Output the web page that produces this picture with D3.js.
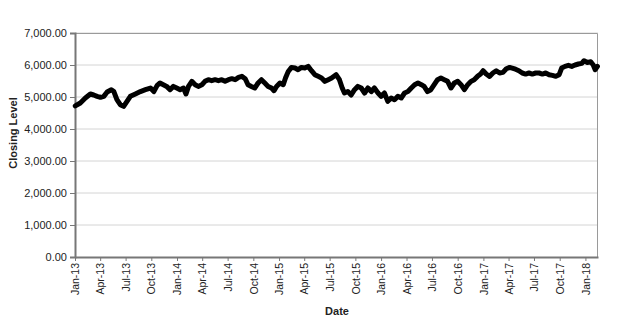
<!DOCTYPE html>
<html>
<head>
<meta charset="utf-8">
<script src="https://cdn.jsdelivr.net/npm/d3@7"></script>
<style>
  body { margin: 0; background: #fff; }
  svg text { font-family: "Liberation Sans", Arial, sans-serif; fill: #222; }
</style>
</head>
<body>
<div id="chart"></div>
<script>
// closing level readings
var dates = [
  "2013-01-02","2013-01-20","2013-02-07","2013-02-25","2013-03-09","2013-03-21","2013-04-02","2013-04-14",
  "2013-04-26","2013-05-11","2013-05-20","2013-05-31","2013-06-12","2013-06-24","2013-07-06","2013-07-18",
  "2013-08-05","2013-08-23","2013-09-10","2013-09-28","2013-10-10","2013-10-22",
  "2013-11-01","2013-11-13","2013-11-25","2013-12-07","2013-12-19","2013-12-31","2014-01-12","2014-01-24",
  "2014-02-02","2014-02-11","2014-02-23","2014-03-07","2014-03-18","2014-03-31","2014-04-11","2014-04-23",
  "2014-05-05","2014-05-17","2014-05-29","2014-06-10","2014-06-22","2014-07-04","2014-07-16","2014-07-28",
  "2014-08-09","2014-08-21","2014-09-02",
  "2014-09-12","2014-09-24","2014-10-06","2014-10-18","2014-10-30","2014-11-11","2014-11-23","2014-12-05",
  "2014-12-14","2014-12-23","2015-01-04","2015-01-16","2015-01-24","2015-02-03","2015-02-14","2015-02-27",
  "2015-03-10","2015-03-22","2015-04-03","2015-04-15","2015-04-27","2015-05-09","2015-05-21","2015-06-02",
  "2015-06-14","2015-06-26","2015-07-08",
  "2015-07-24","2015-08-05","2015-08-15","2015-08-23","2015-09-04","2015-09-16","2015-09-28","2015-10-10",
  "2015-10-22","2015-11-03","2015-11-15","2015-11-27","2015-12-08","2015-12-21","2016-01-01","2016-01-13",
  "2016-01-25","2016-02-06","2016-02-18","2016-03-01","2016-03-13","2016-03-25","2016-04-06","2016-04-18",
  "2016-04-30","2016-05-12","2016-05-24",
  "2016-06-03","2016-06-15","2016-06-27","2016-07-09","2016-07-21","2016-08-02","2016-08-14","2016-08-26",
  "2016-09-07","2016-09-19","2016-10-01","2016-10-13","2016-10-25","2016-11-06","2016-11-18","2016-11-29",
  "2016-12-11","2016-12-22","2016-12-31","2017-01-11","2017-01-23","2017-02-04","2017-02-16","2017-02-28",
  "2017-03-12","2017-03-24","2017-04-05",
  "2017-04-14","2017-04-26","2017-05-08","2017-05-20","2017-06-01","2017-06-13","2017-06-25","2017-07-07",
  "2017-07-19","2017-07-31","2017-08-12","2017-08-24","2017-09-05","2017-09-17","2017-09-29","2017-10-08",
  "2017-10-20","2017-11-01","2017-11-13","2017-11-25","2017-12-07","2017-12-19","2017-12-27","2018-01-08",
  "2018-01-20","2018-01-29","2018-02-05","2018-02-13"
];
var closing = [
  4720,4812,4969,5094,5062,5020,4990,5020,
  5156,5228,5170,4916,4760,4708,4864,5020,
  5094,5170,5228,5281,5170,5364,
  5437,5384,5331,5228,5331,5281,5228,5281,
  5094,5331,5489,5384,5331,5384,5489,5541,
  5510,5541,5510,5541,5489,5541,5572,5541,
  5614,5645,5572,
  5384,5331,5281,5437,5541,5437,5331,5281,
  5197,5331,5437,5384,5593,5800,5925,5904,
  5853,5925,5904,5957,5822,5697,5645,5593,
  5489,5541,5593,
  5697,5541,5281,5125,5170,5062,5228,5331,
  5281,5125,5281,5170,5281,5125,5020,5125,
  4864,4969,4916,5020,4969,5125,5170,5281,
  5384,5437,5384,
  5331,5170,5228,5384,5541,5593,5541,5489,
  5281,5437,5489,5384,5228,5384,5489,5541,
  5645,5718,5822,5718,5645,5750,5822,5750,
  5770,5884,5925,
  5904,5870,5822,5750,5718,5750,5718,5750,
  5750,5718,5750,5697,5675,5645,5697,5904,
  5957,5989,5957,6000,6031,6050,6134,6080,
  6100,6000,5853,5957
];
var yTicks = [0, 1000, 2000, 3000, 4000, 5000, 6000, 7000];
var xStart = "2013-01-01", xEnd = "2018-02-15";

var width = 622, height = 320;
var margin = {top: 33, right: 24, bottom: 63, left: 75};

var parse = d3.timeParse("%Y-%m-%d");
var points = dates.map(function (d, i) { return {date: parse(d), value: closing[i]}; });

var svg = d3.select("#chart").append("svg")
    .attr("width", width)
    .attr("height", height);

var x = d3.scaleTime()
    .domain([parse(xStart), parse(xEnd)])
    .range([margin.left, width - margin.right]);

var y = d3.scaleLinear()
    .domain([0, 7000])
    .range([height - margin.bottom, margin.top]);

// gridlines
svg.append("g")
    .selectAll("line")
    .data(yTicks.slice(1))
    .enter().append("line")
    .attr("x1", margin.left).attr("x2", width - margin.right)
    .attr("y1", function (d) { return y(d); })
    .attr("y2", function (d) { return y(d); })
    .attr("stroke", "#d4d4d4")
    .attr("stroke-width", 1);

// plot frame (top / right)
svg.append("path")
    .attr("d", "M" + margin.left + "," + (margin.top + 0.5) + "H" + (width - margin.right - 0.5) +
        "V" + (height - margin.bottom))
    .attr("fill", "none")
    .attr("stroke", "#9a9a9a")
    .attr("stroke-width", 1);

// y axis
var yAxis = d3.axisLeft(y)
    .tickValues(yTicks)
    .tickSize(5)
    .tickPadding(3)
    .tickFormat(d3.format(",.2f"));

var yg = svg.append("g")
    .attr("transform", "translate(" + margin.left + ",0)")
    .call(yAxis);
yg.select(".domain").attr("stroke", "#777").attr("stroke-width", 2);
yg.selectAll(".tick line").attr("stroke", "#777");
yg.selectAll("text")
    .style("font-size", "11px")
    .attr("fill", "#222");

// x axis
var xTicks = d3.timeMonth.every(3).range(parse(xStart), parse("2018-01-02"));
var xAxis = d3.axisBottom(x)
    .tickValues(xTicks)
    .tickSize(4)
    .tickSizeOuter(0)
    .tickFormat(d3.timeFormat("%b-%y"));

var xg = svg.append("g")
    .attr("transform", "translate(0," + (height - margin.bottom) + ")")
    .call(xAxis);
xg.select(".domain").attr("stroke", "#777").attr("stroke-width", 2);
xg.selectAll(".tick line").attr("stroke", "#777");
xg.selectAll("text")
    .style("font-size", "10.5px")
    .attr("fill", "#222")
    .attr("text-anchor", "end")
    .attr("transform", "rotate(-90)")
    .attr("x", -6)
    .attr("y", 0)
    .attr("dy", "0.35em");

// the series
var line = d3.line()
    .x(function (d) { return x(d.date); })
    .y(function (d) { return y(d.value); });

svg.append("path")
    .datum(points)
    .attr("fill", "none")
    .attr("stroke", "#000")
    .attr("stroke-width", 5)
    .attr("stroke-linejoin", "round")
    .attr("stroke-linecap", "round")
    .attr("d", line);

// axis titles
svg.append("text")
    .attr("transform", "translate(17,133) rotate(-90)")
    .attr("text-anchor", "middle")
    .style("font-size", "11px")
    .style("font-weight", "bold")
    .text("Closing Level");

svg.append("text")
    .attr("x", 337)
    .attr("y", 315)
    .attr("text-anchor", "middle")
    .style("font-size", "11px")
    .style("font-weight", "bold")
    .text("Date");
</script>
</body>
</html>
